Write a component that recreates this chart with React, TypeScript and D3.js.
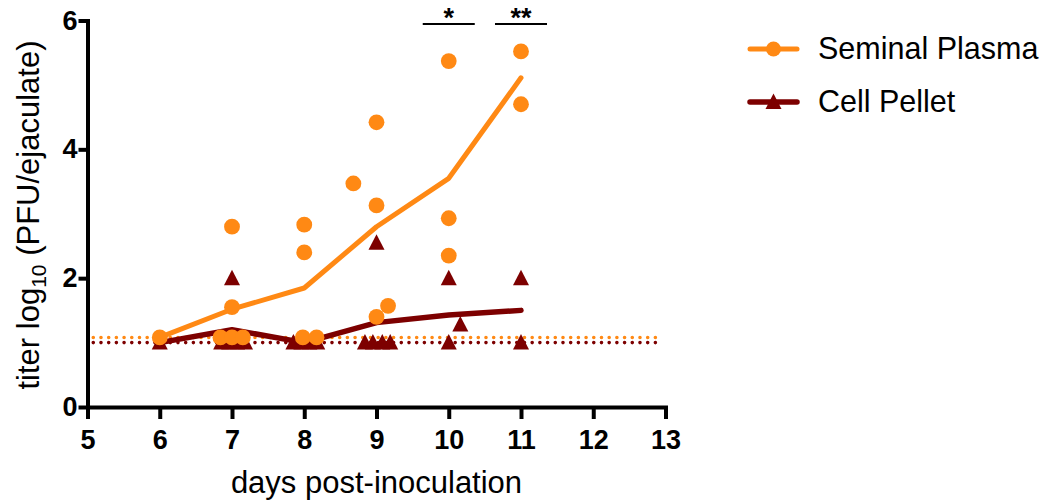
import * as d3 from "d3";
import React, { useRef, useEffect } from "react";

const W = 1060;
const H = 502;

const xTicks = [5, 6, 7, 8, 9, 10, 11, 12, 13];
const yTicks = [0, 2, 4, 6];

// seminal plasma (circles); day values carry the horizontal spread seen in the figure
const plasmaDay = [6, 7, 7, 6.84, 7, 7.15, 8, 8, 7.98, 8.17, 8.68, 9, 9, 9, 9.16, 10, 10, 10, 11, 11];
const plasmaTiter = [1.08, 2.8, 1.55, 1.08, 1.08, 1.08, 2.83, 2.4, 1.08, 1.08, 3.47, 4.42, 3.13, 1.4, 1.57, 5.37, 2.93, 2.35, 5.52, 4.7];

// cell pellet (triangles)
const pelletDay = [6, 7, 6.85, 6.96, 7.07, 7.18, 7.85, 7.96, 8.07, 8.18, 9, 8.84, 8.95, 9.08, 9.19, 10, 10.16, 10, 11, 11];
const pelletTiter = [1.0, 2.0, 1, 1, 1, 1, 1, 1, 1, 1, 2.55, 1, 1, 1, 1, 2.0, 1.28, 1.0, 2.0, 1.0];

// limits of detection (dotted lines)
const lodPlasma = 1.08;
const lodPellet = 1.0;
const lodRange = [5.08, 12.95];

// significance marks
const sigDays = [10, 11];
const sigLabels = ["*", "**"];

const seriesNames = ["Seminal Plasma", "Cell Pellet"];
const ORANGE = "#FF8914";
const MAROON = "#7D0000";
const FONT = "'Liberation Sans', Arial, sans-serif";

const triPath = "M0,-8.5L8,7L-8,7Z";

function means(days: number[], vals: number[]) {
  const rows = days.map((d, i) => ({ d: Math.round(d), v: vals[i] }));
  return d3
    .rollups(rows, (g) => d3.mean(g, (r) => r.v) as number, (r) => r.d)
    .sort((a, b) => a[0] - b[0]);
}

export default function App() {
  const xAxisRef = useRef<SVGGElement>(null);
  const yAxisRef = useRef<SVGGElement>(null);

  const x = d3.scaleLinear().domain([5, 13]).range([87.5, 665.5]);
  const y = d3.scaleLinear().domain([0, 6]).range([407, 20.5]);

  useEffect(() => {
    const xAxis = d3.axisBottom(x).tickValues(xTicks).tickSize(12).tickSizeOuter(0).tickPadding(11).tickFormat(d3.format("d"));
    const yAxis = d3.axisLeft(y).tickValues(yTicks).tickSize(9).tickSizeOuter(0).tickPadding(1).tickFormat(d3.format("d"));
    const gx = d3.select(xAxisRef.current).call(xAxis as any);
    const gy = d3.select(yAxisRef.current).call(yAxis as any);
    [gx, gy].forEach((g: any) => {
      g.select(".domain").attr("stroke", "#000").attr("stroke-width", 4).attr("stroke-linecap", "square");
      g.selectAll(".tick line").attr("stroke", "#000").attr("stroke-width", 4);
      g.selectAll(".tick text")
        .attr("fill", "#000")
        .style("font-family", FONT)
        .style("font-size", "27px")
        .style("font-weight", "bold");
    });
  }, []); // eslint-disable-line react-hooks/exhaustive-deps

  const line = d3
    .line<[number, number]>()
    .x((d) => x(d[0]))
    .y((d) => y(d[1]));

  const plasmaMean = means(plasmaDay, plasmaTiter);
  const pelletMean = means(pelletDay, pelletTiter);

  return (
    <svg width={W} height={H} style={{ position: "absolute", left: 0, top: 0, background: "#fff" }}>
      {/* limit of detection */}
      <line x1={x(lodRange[0])} x2={x(lodRange[1])} y1={y(lodPlasma)} y2={y(lodPlasma)}
        stroke={ORANGE} strokeWidth={3.6} strokeLinecap="round" strokeDasharray="0 7.7" />
      <line x1={x(lodRange[0])} x2={x(lodRange[1])} y1={y(lodPellet)} y2={y(lodPellet)}
        stroke={MAROON} strokeWidth={3.6} strokeLinecap="round" strokeDasharray="0 7.7" />

      {/* cell pellet */}
      <path d={line(pelletMean) || ""} fill="none" stroke={MAROON} strokeWidth={5.5} strokeLinecap="round" strokeLinejoin="round" />
      {pelletDay.map((d, i) => (
        <path key={"t" + i} d={triPath} transform={`translate(${x(d)},${y(pelletTiter[i])})`} fill={MAROON} />
      ))}

      {/* seminal plasma */}
      <path d={line(plasmaMean) || ""} fill="none" stroke={ORANGE} strokeWidth={5} strokeLinecap="round" strokeLinejoin="round" />
      {plasmaDay.map((d, i) => (
        <circle key={"c" + i} cx={x(d)} cy={y(plasmaTiter[i])} r={7.9} fill={ORANGE} />
      ))}

      {/* axes */}
      <g ref={xAxisRef} transform={`translate(0,${y(0)})`} />
      <g ref={yAxisRef} transform={`translate(${x(5)},0)`} />

      {/* significance */}
      {sigDays.map((d, i) => (
        <g key={"s" + i}>
          <line x1={x(d - 0.36)} x2={x(d + 0.36)} y1={24} y2={24} stroke="#000" strokeWidth={2} />
          <text x={x(d)} y={27} textAnchor="middle" fontFamily={FONT} fontWeight="bold" fontSize={27}>{sigLabels[i]}</text>
        </g>
      ))}

      {/* axis titles */}
      <text x={x(9)} y={493} textAnchor="middle" fontFamily={FONT} fontSize={31}>days post-inoculation</text>
      <text transform="translate(39,215) rotate(-90)" textAnchor="middle" fontFamily={FONT} fontSize={31}>
        titer log<tspan fontSize={21} dy={7}>10</tspan><tspan dy={-7}> (PFU/ejaculate)</tspan>
      </text>

      {/* legend */}
      <g transform="translate(750,49)">
        <line x1={0} x2={47} y1={0} y2={0} stroke={ORANGE} strokeWidth={5} strokeLinecap="round" />
        <circle cx={23.5} cy={0} r={7.5} fill={ORANGE} />
        <text x={68} y={10} fontFamily={FONT} fontSize={30.5}>{seriesNames[0]}</text>
      </g>
      <g transform="translate(750,102)">
        <line x1={0} x2={47} y1={0} y2={0} stroke={MAROON} strokeWidth={5.5} strokeLinecap="round" />
        <path d={triPath} transform="translate(23.5,0)" fill={MAROON} />
        <text x={68} y={10} fontFamily={FONT} fontSize={30.5}>{seriesNames[1]}</text>
      </g>
    </svg>
  );
}
